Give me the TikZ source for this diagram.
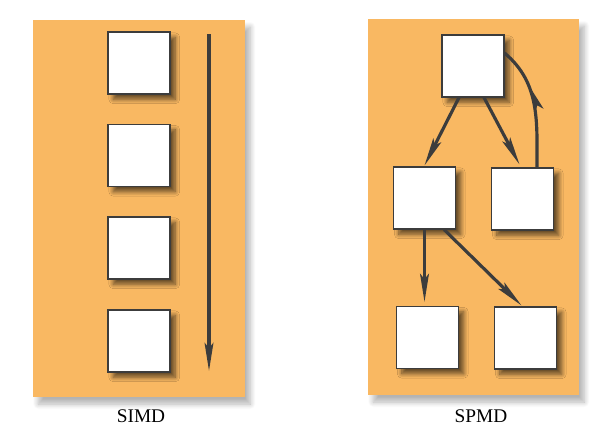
\documentclass[tikz,border=0pt]{standalone}
\usepackage{fontspec}
\setmainfont{Liberation Serif}
\usetikzlibrary{arrows.meta, calc, shadows.blur, decorations.markings}
\definecolor{panelfill}{RGB}{249,184,98}
\definecolor{edge}{RGB}{60,60,60}
\tikzset{
  panel/.style={draw=none, fill=panelfill,
                blur shadow={shadow xshift=3pt, shadow yshift=-4pt, shadow blur steps=10, shadow blur radius=3pt, shadow opacity=30}},
  pe/.style={rectangle, draw=edge, semithick, fill=white, minimum size=1.24cm,
             inner sep=0pt, blur shadow={shadow xshift=3pt, shadow yshift=-3pt, shadow blur steps=10, shadow blur radius=2.5pt, shadow opacity=60}},
  tip/.style={-{Stealth[length=16pt, width=5pt, inset=3pt]}},
  arrow/.style={tip, line width=1.8pt, color=edge},
  caption/.style={font=\fontsize{11}{13}\selectfont},
}
\begin{document}
\begin{tikzpicture}[x=0.02cm, y=-0.02cm]
    \useasboundingbox (0,0) rectangle (609,440);

    \fill[panel] (33,20) rectangle (245,397);
    \fill[panel] (368,19) rectangle (579,395);

    \foreach \y/\n in {63/1, 155.5/2, 248/3, 341/4}{
      \node[pe] (simd\n) at (139,\y) {};
    }
    \coordinate (tstart) at (209,34);
    \coordinate (tend) at (209,371);
    \draw[arrow] (tstart) -- (tend);

    \node[pe] (top) at (473,66) {};
    \node[pe] (midL) at (424.5,198) {};
    \node[pe] (midR) at (522.5,199) {};
    \node[pe] (botL) at (427.5,337.5) {};
    \node[pe] (botR) at (525.5,338) {};

    \draw[arrow] ([xshift=-0.28cm]top.south) -- ([yshift=0.02cm]midL.north);
    \draw[arrow] ([xshift=0.22cm]top.south) -- ([xshift=-0.06cm, yshift=0.06cm]midR.north);
    \draw[line width=1.8pt, color=edge, postaction={decorate},
          decoration={markings, mark=at position 0.68 with {\arrow{Stealth[length=16pt, width=5pt, inset=3pt]}}}]
      ([xshift=0.29cm]midR.north) to[out=90, in=-40] ([yshift=0.26cm]top.east);
    \draw[arrow] (midL.south) -- ([yshift=0.08cm]midL.south |- botL.north);
    \draw[arrow] ([xshift=0.39cm]midL.south) -- ([xshift=-0.08cm, yshift=0.02cm]botR.north);

    \node[caption] (simdlabel) at (141,416) {SIMD};
    \node[caption] (spmdlabel) at (481,416) {SPMD};
\end{tikzpicture}
\end{document}
